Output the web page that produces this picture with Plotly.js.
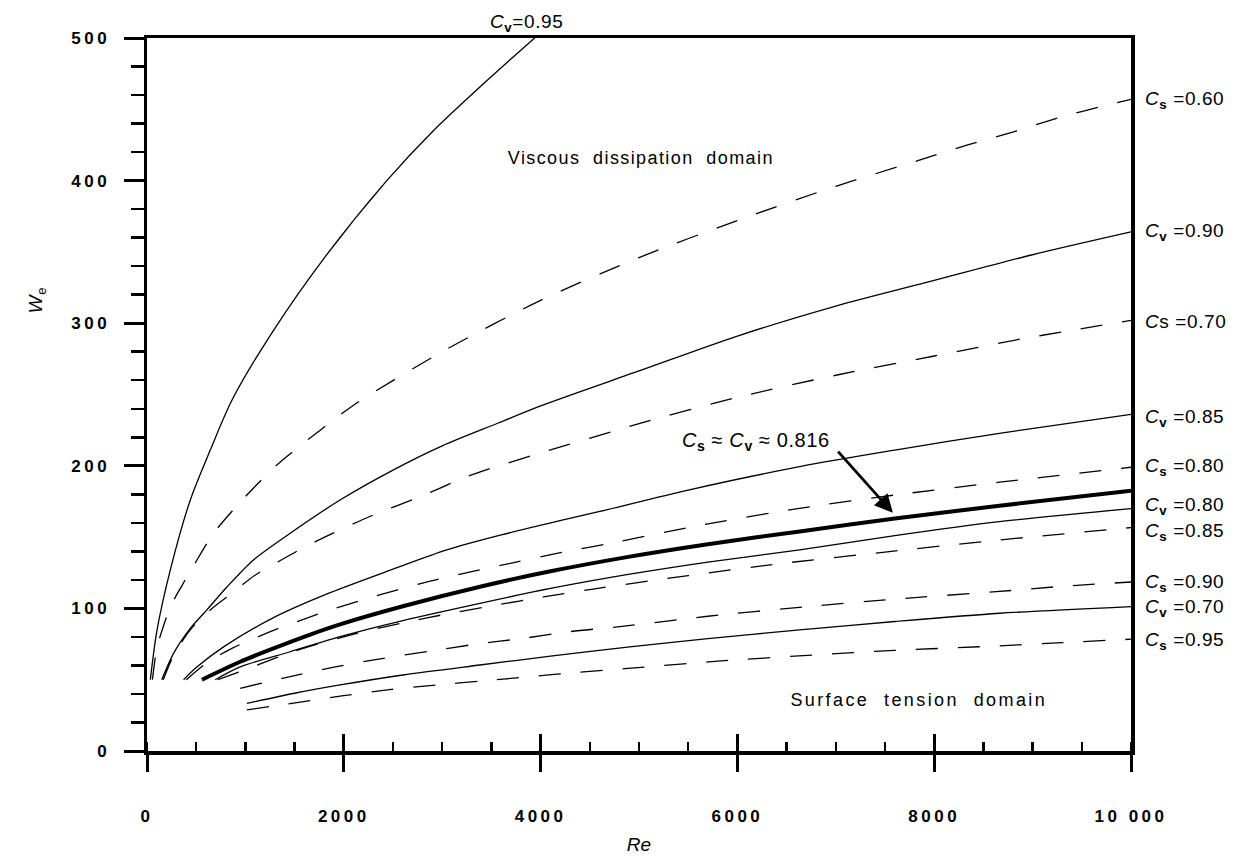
<!DOCTYPE html>
<html>
<head>
<meta charset="utf-8">
<script src="https://cdn.plot.ly/plotly-3.0.1.min.js"></script>
<style>
  html, body { margin: 0; padding: 0; background: #fff; }
  #chart { width: 1247px; height: 861px; }
  .xtick text, .ytick text { letter-spacing: 3.5px; }
  .annotation-text { letter-spacing: 0.6px; }
  .annotation[data-index="11"] .annotation-text { letter-spacing: 1.4px; }
  .annotation[data-index="12"] .annotation-text { letter-spacing: 2.4px; }
</style>
</head>
<body>
<div id="chart"></div>
<script>
// ---- Data (Re, We) ----
const cv095_re = [34, 100, 237, 440, 643, 863, 1286, 1793, 2437, 2910, 3500, 3940];
const cv095_we = [50, 84, 127, 176, 211, 246, 295, 345, 400, 435, 473, 500];

const cs060_re = [55, 100, 150, 237, 355, 474, 676, 981, 1320, 1760, 2132, 3000, 4000, 5000, 6000, 7000, 7834, 8341, 8797, 9307, 9763, 10000];
const cs060_we = [50, 72, 84, 101, 116, 130, 152.6, 177, 200.6, 225, 244, 280, 316, 346, 372, 396, 414, 425, 434, 445, 453, 457];

const cv090_re = [150, 270, 440, 609, 812, 1082, 1455, 1962, 2500, 3000, 3571, 4000, 5000, 6000, 7000, 8000, 9000, 10000];
const cv090_we = [50, 68.5, 86, 99, 115, 134, 152.7, 176, 197, 214, 230, 242, 266.5, 291, 312, 330, 348, 364];

const cs070_re = [165, 270, 440, 643, 863, 1100, 1336, 1574, 1827, 2300, 2775, 3249, 3485, 4000, 5000, 6000, 7000, 8000, 8888, 9354, 10000];
const cs070_we = [50, 67, 85, 98.9, 110.6, 123.4, 132.8, 142, 150.7, 165.5, 178.3, 192.4, 198, 209, 229.5, 248, 263.5, 277, 289, 294.5, 302];

const cv085_re = [372, 500, 778, 1286, 1861, 2500, 3046, 3600, 4229, 4602, 5500, 6633, 7600, 8663, 10000];
const cv085_we = [50, 58.5, 73, 93.5, 111, 127.5, 141, 151.5, 162, 168, 183, 199.4, 211, 222.8, 236];

const cs080_re = [400, 600, 863, 1117, 1336, 1590, 1861, 2300, 2792, 3265, 3739, 4213, 4703, 5600, 6633, 7600, 8663, 10000];
const cs080_we = [50, 61.5, 72, 79.7, 86, 92.3, 98.9, 108.2, 117.6, 125.3, 132.3, 139.3, 145.6, 158, 170.2, 179.5, 188.5, 199];

const cs816_re = [558, 947, 1286, 1624, 1962, 2600, 3384, 4100, 4906, 5700, 6633, 7600, 8663, 10000];
const cs816_we = [50, 62.6, 72, 80.8, 88.8, 101.5, 115.2, 126, 136.3, 145, 154, 163, 172, 182.5];

const cv080_re = [693, 947, 1455, 1962, 2600, 3384, 4100, 4906, 5700, 6633, 7600, 8663, 10000];
const cv080_we = [50, 59, 69.6, 80.2, 91.5, 103.6, 114, 124, 132.5, 141, 151, 160.8, 170];

const cs085_re = [720, 1000, 1500, 2132, 2605, 3086, 3553, 4044, 4518, 5500, 6463, 7500, 8494, 10000];
const cs085_we = [50, 57, 70, 82.5, 90, 96.6, 102.4, 108.2, 113.4, 123, 131.6, 139.5, 146.8, 156.7];

const cs090_re = [947, 1421, 1912, 2402, 2876, 3350, 3823, 4297, 4805, 5700, 6700, 7600, 8629, 9300, 10000];
const cs090_we = [44, 51.7, 59, 65, 70, 75, 79, 83.7, 87.2, 94.5, 101.2, 106.5, 111.7, 115.5, 118.5];

const cv070_re = [1015, 1500, 1962, 2600, 3384, 4100, 4906, 5700, 6633, 7600, 8663, 10000];
const cv070_we = [33.4, 40.5, 46.3, 53.3, 60.3, 66.5, 73, 78.8, 84.9, 90.8, 96.6, 101.3];

const cs095_re = [1015, 1523, 1980, 2463, 2937, 3411, 3891, 4382, 4856, 5800, 6768, 7600, 8460, 9300, 10000];
const cs095_we = [28.8, 33.9, 38.6, 43, 46.3, 49.1, 52.1, 55.2, 57.7, 63, 67.3, 70.6, 73.1, 76, 78.4];

// Tick labels
const xTickVals = [0, 2000, 4000, 6000, 8000, 10000];
const xTickText = ['0', '2000', '4000', '6000', '8000', '10 000'];
const yTickVals = [0, 100, 200, 300, 400, 500];
const yTickText = ['0', '100', '200', '300', '400', '500'];

// Right-hand curve labels
const labelText = ['<i>C</i><sub><b>s</b></sub> =0.60', '<i>C</i><sub><b>v</b></sub> =0.90', '<i>C</i>s =0.70',
  '<i>C</i><sub><b>v</b></sub> =0.85', '<i>C</i><sub><b>s</b></sub> =0.80', '<i>C</i><sub><b>v</b></sub> =0.80',
  '<i>C</i><sub><b>s</b></sub> =0.85', '<i>C</i><sub><b>s</b></sub> =0.90', '<i>C</i><sub><b>v</b></sub> =0.70',
  '<i>C</i><sub><b>s</b></sub> =0.95'];
const labelWe = [456.5, 364, 301, 233.5, 199, 172, 153.6, 117.8, 100.3, 77];

// ---- Traces ----
const thin = {color: '#000', width: 1.3, shape: 'spline', smoothing: 0.8};
const dashed = {color: '#000', width: 1.3, dash: '22px,20px', shape: 'spline', smoothing: 0.8};
function tr(x, y, line) {
  return {type: 'scatter', mode: 'lines', x: x, y: y, line: line, showlegend: false, hoverinfo: 'skip'};
}
const traces = [
  tr(cv095_re, cv095_we, thin),
  tr(cs060_re, cs060_we, dashed),
  tr(cv090_re, cv090_we, thin),
  tr(cs070_re, cs070_we, dashed),
  tr(cv085_re, cv085_we, thin),
  tr(cs080_re, cs080_we, dashed),
  tr(cs816_re, cs816_we, {color: '#000', width: 4, shape: 'spline', smoothing: 0.8}),
  tr(cv080_re, cv080_we, thin),
  tr(cs085_re, cs085_we, dashed),
  tr(cs090_re, cs090_we, dashed),
  tr(cv070_re, cv070_we, thin),
  tr(cs095_re, cs095_we, dashed),
  // carrier for the overlaid axis (inner halves of major x ticks)
  {type: 'scatter', mode: 'lines', x: [null], y: [null], xaxis: 'x2', showlegend: false, hoverinfo: 'skip'}
];

const font = 'Liberation Sans, Arial, Helvetica, sans-serif';
const annotations = labelText.map((t, i) => ({
  text: t, xref: 'paper', yref: 'y', x: 1.012, y: labelWe[i], xanchor: 'left', yanchor: 'middle',
  showarrow: false, font: {family: font, size: 19, color: '#000'}
}));
annotations.push(
  {text: '<i>C</i><sub><b>v</b></sub>=0.95', xref: 'x', yref: 'paper', x: 3860, y: 1.002, xanchor: 'center', yanchor: 'bottom',
   showarrow: false, font: {family: font, size: 19, color: '#000'}},
  {text: 'Viscous  dissipation  domain', xref: 'x', yref: 'y', x: 5020, y: 416, showarrow: false,
   font: {family: font, size: 18, color: '#000'}},
  {text: 'Surface  tension  domain', xref: 'x', yref: 'y', x: 7850, y: 36, showarrow: false,
   font: {family: font, size: 18, color: '#000'}},
  {text: '<i>C</i><sub><b>s</b></sub> ≈ <i>C</i><sub><b>v</b></sub> ≈ 0.816', xref: 'x', yref: 'y', x: 6190, y: 217, showarrow: false,
   font: {family: font, size: 20, color: '#000'}},
  {text: '', xref: 'x', yref: 'y', axref: 'x', ayref: 'y', x: 7580, y: 167, ax: 7010, ay: 211,
   showarrow: true, arrowhead: 2, arrowsize: 1.3, arrowwidth: 2.8, arrowcolor: '#000'},
  {text: '<i>W</i><sub>e</sub>', xref: 'paper', yref: 'y', x: -0.126, y: 316, textangle: -90, showarrow: false,
   font: {family: font, size: 19, color: '#000'}}
);

const layout = {
  width: 1247, height: 861,
  margin: {l: 147, r: 116, t: 38, b: 110, pad: 0},
  paper_bgcolor: '#fff', plot_bgcolor: '#fff',
  showlegend: false,
  font: {family: font, color: '#000'},
  xaxis: {
    range: [0, 10000], showgrid: false, zeroline: false,
    showline: true, linewidth: 3.5, linecolor: '#000', mirror: true,
    ticks: 'outside', ticklen: 17, tickwidth: 3, tickcolor: '#000',
    tickvals: xTickVals, ticktext: xTickText,
    minor: {dtick: 500, ticks: 'inside', ticklen: 9, tickwidth: 2.5, tickcolor: '#000', showgrid: false},
    tickfont: {family: font, size: 17, color: '#000', weight: 'bold'},
    ticklabelstandoff: 30,
    title: {text: '<i>Re</i>', font: {family: font, size: 19, color: '#000'}, standoff: 14}
  },
  xaxis2: {
    overlaying: 'x', range: [0, 10000], showgrid: false, zeroline: false, showline: false,
    ticks: 'inside', ticklen: 17, tickwidth: 3, tickcolor: '#000',
    tickvals: xTickVals, showticklabels: false
  },
  yaxis: {
    range: [0, 500], showgrid: false, zeroline: false,
    showline: true, linewidth: 3.5, linecolor: '#000', mirror: true,
    ticks: 'outside', ticklen: 20, tickwidth: 3, tickcolor: '#000',
    tickvals: yTickVals, ticktext: yTickText,
    minor: {dtick: 20, ticks: 'outside', ticklen: 13, tickwidth: 2.5, tickcolor: '#000', showgrid: false},
    tickfont: {family: font, size: 17, color: '#000', weight: 'bold'},
    ticklabelstandoff: 10
  },
  annotations: annotations
};

Plotly.newPlot('chart', traces, layout, {staticPlot: true, displayModeBar: false});
</script>
</body>
</html>
